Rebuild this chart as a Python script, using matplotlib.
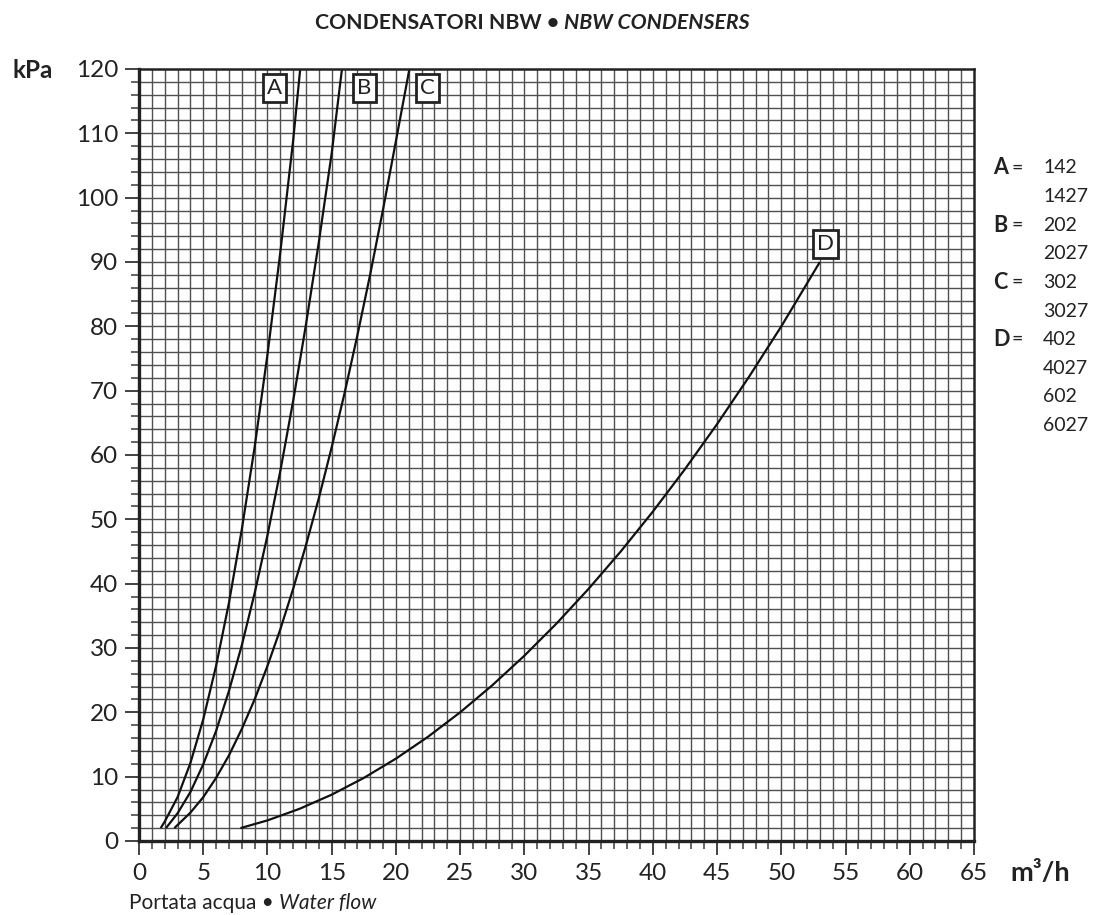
import numpy as np
import matplotlib
matplotlib.use("Agg")
import matplotlib.pyplot as plt
from matplotlib.ticker import MultipleLocator

plt.rcParams['font.family'] = ['Lato', 'DejaVu Sans']

# pressure drop curves, water flow [m3/h] vs kPa
flow_a = [1.69, 2, 3, 4, 5, 6, 7, 8, 9, 10, 11, 12, 12.55]
dp_a = [2.0, 3.0, 6.8, 12.1, 18.9, 27.2, 37.0, 48.4, 61.2, 75.6, 91.5, 108.9, 120.0]

flow_b = [2.1, 3, 4, 5, 6, 7, 8, 9, 10, 11, 12, 13, 14, 15, 15.8]
dp_b = [2.0, 4.3, 7.6, 11.9, 17.1, 23.3, 30.4, 38.5, 47.5, 57.5, 68.4, 80.3, 93.1, 106.9, 120.0]

flow_c = [2.75, 4, 5, 6, 7, 8, 9, 10, 11, 12, 13, 14, 15, 16, 17, 18, 19, 20, 21.05]
dp_c = [2.0, 4.4, 6.8, 9.8, 13.3, 17.4, 22.0, 27.2, 32.9, 39.2, 46.0, 53.3, 61.2,
        69.6, 78.6, 88.1, 98.2, 108.8, 120.0]

flow_d = [7.9, 10, 12.5, 15, 17.5, 20, 22.5, 25, 27.5, 30, 32.5, 35, 37.5, 40,
          42.5, 45, 47.5, 50, 53]
dp_d = [2.0, 3.2, 5.0, 7.2, 9.8, 12.8, 16.2, 20.0, 24.2, 28.8, 33.8, 39.2, 45.0,
        51.2, 57.8, 64.8, 72.2, 80.0, 90.0]

curve_names = ['A', 'B', 'C', 'D']
label_pos = [(10.55, 117.0), (17.55, 117.0), (22.45, 117.0), (53.4, 92.8)]

legend_keys = ['A', '', 'B', '', 'C', '', 'D', '', '', '']
legend_models = ['142', '1427', '202', '2027', '302', '3027', '402', '4027', '602', '6027']

INK = '#222222'

fig = plt.figure(figsize=(10.97, 9.15), dpi=100)
ax = fig.add_axes([0.1267, 0.0809, 0.7612, 0.8437])

ax.set_xlim(0, 65)
ax.set_ylim(0, 120)

# grid: 1 m3/h by 2 kPa
for xv in np.arange(1, 65, 1):
    ax.axvline(xv, color='#505050', lw=1.0, zorder=1)
for yv in np.arange(2, 120, 2):
    ax.axhline(yv, color='#505050', lw=1.0, zorder=1)

for fl, dp in [(flow_a, dp_a), (flow_b, dp_b), (flow_c, dp_c), (flow_d, dp_d)]:
    ax.plot(fl, dp, color='#111111', lw=1.6, zorder=3, solid_capstyle='butt')

for name, (lx, ly) in zip(curve_names, label_pos):
    ax.text(lx, ly, name, fontsize=16, ha='center', va='center', color=INK, zorder=5,
            bbox=dict(boxstyle='square,pad=0.18', fc='white', ec=INK, lw=2.0))

for side in ['left', 'bottom']:
    ax.spines[side].set_linewidth(2.4)
for side in ['top', 'right']:
    ax.spines[side].set_linewidth(1.8)
for side in ax.spines:
    ax.spines[side].set_color(INK)
    ax.spines[side].set_zorder(4)

ax.xaxis.set_major_locator(MultipleLocator(5))
ax.xaxis.set_minor_locator(MultipleLocator(1))
ax.yaxis.set_major_locator(MultipleLocator(10))
ax.yaxis.set_minor_locator(MultipleLocator(2))
ax.tick_params(axis='both', which='major', length=10, width=1.2, color=INK,
               labelsize=17.5, labelcolor=INK)
ax.tick_params(axis='both', which='minor', length=5.5, width=1.1, color='#3a3a3a')
ax.tick_params(axis='x', which='major', pad=6)
ax.tick_params(axis='y', which='major', pad=5)

fig.canvas.draw()
renderer = fig.canvas.get_renderer()
W, H = fig.bbox.width, fig.bbox.height


def two_part(x_px, y_frac, first, second, size, weight):
    # upright text followed directly by an italic part
    t1 = fig.text(x_px / W, y_frac, first, fontsize=size, fontweight=weight,
                  ha='left', va='center', color=INK)
    bb = t1.get_window_extent(renderer)
    fig.text(bb.x1 / W, y_frac, second, fontsize=size, fontweight=weight, style='italic',
             ha='left', va='center', color=INK)


two_part(315, 0.975, 'CONDENSATORI NBW \u2022 ', 'NBW CONDENSERS', 15.3, 'bold')
two_part(129, 0.013, 'Portata acqua \u2022 ', 'Water flow', 15, 'normal')

fig.text(0.011, 0.923, 'kPa', fontsize=17.5, fontweight='bold', ha='left', va='center',
         color=INK)
fig.text(0.921, 0.046, 'm\u00b3/h', fontsize=19.5, fontweight='bold', ha='left', va='center',
         color=INK)

# model legend on the right
for i, (key, model) in enumerate(zip(legend_keys, legend_models)):
    yy = 0.8164 - i * 0.03126
    if key:
        fig.text(0.905, yy, key, fontsize=15.5, fontweight='bold', ha='left', va='center',
                 color=INK)
        fig.text(0.922, yy, '=', fontsize=14, ha='left', va='center', color=INK)
    fig.text(0.951, yy, model, fontsize=14, ha='left', va='center', color=INK)

fig.savefig('out.png', dpi=100, facecolor='white')
